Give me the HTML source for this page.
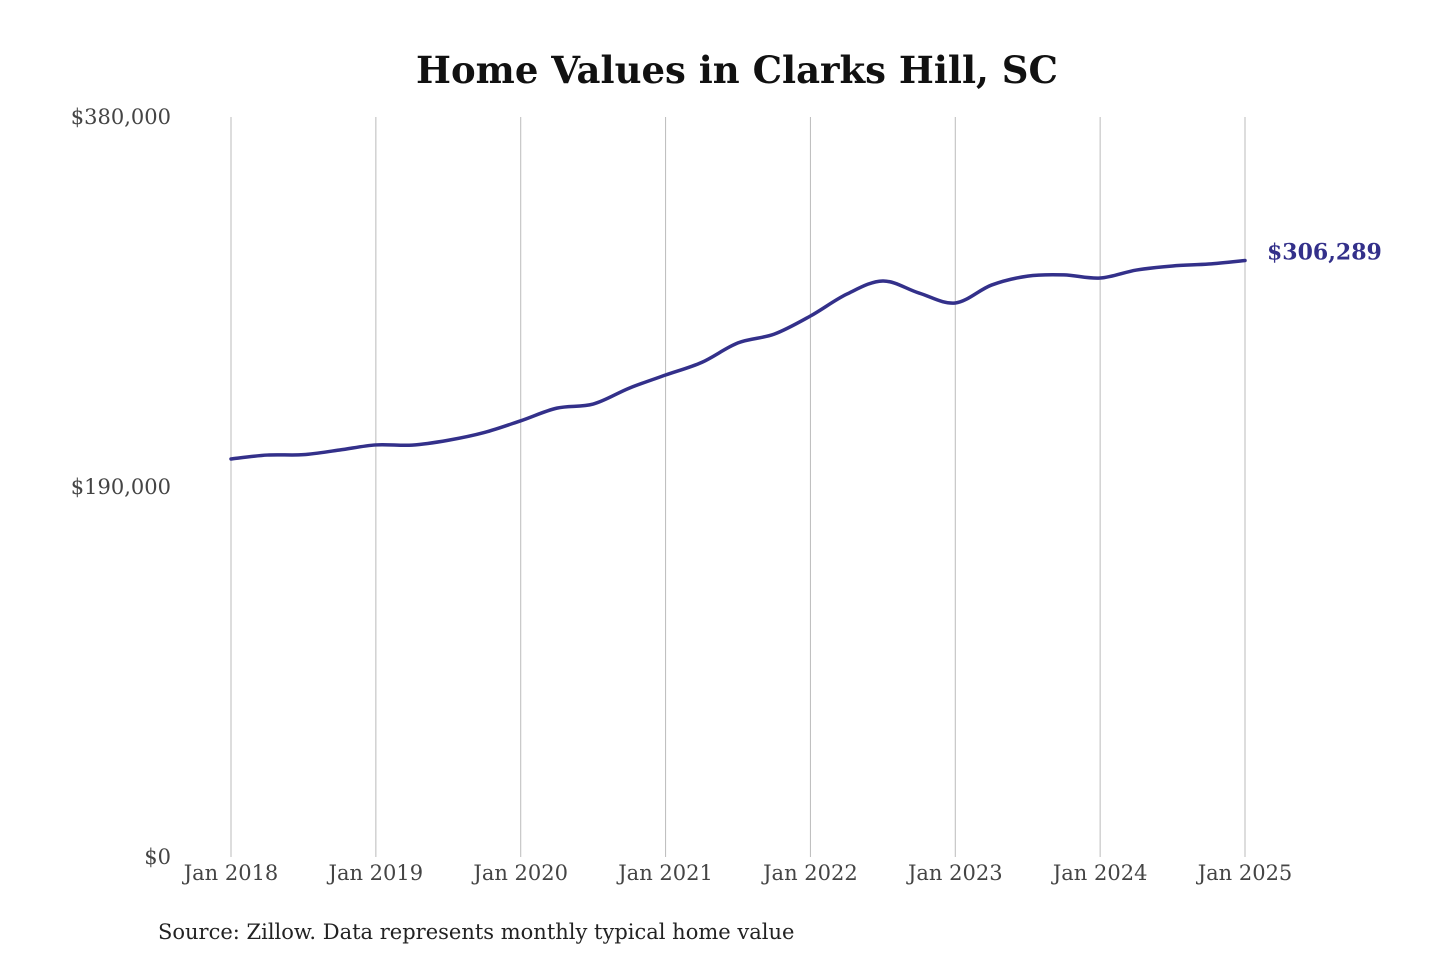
<!DOCTYPE html>
<html><head><meta charset="utf-8">
<style>
html,body{margin:0;padding:0;background:#fff;}
body{width:1440px;height:960px;overflow:hidden;font-family:"DejaVu Serif","Liberation Serif",serif;}
</style></head>
<body>
<svg id="chart" width="1440" height="960" xmlns="http://www.w3.org/2000/svg">
<text x="737" y="83" text-anchor="middle" font-size="37" font-weight="bold" fill="#111" font-family="DejaVu Serif, Liberation Serif, serif">Home Values in Clarks Hill, SC</text>
<g id="grid"></g>
<g id="yticks"></g>
<g id="xticks"></g>
<path id="line" fill="none" stroke="#33308a" stroke-width="3.5" stroke-linejoin="round" stroke-linecap="round"/>
<text id="endlabel" font-size="22" font-weight="bold" fill="#33308a"></text>
<text x="158" y="939" font-size="21" fill="#222">Source: Zillow. Data represents monthly typical home value</text>
</svg>
<script>
const months = [0,3,6,9,12,15,18,21,24,27,30,33,36,39,42,45,48,51,54,57,60,63,66,69,72,75,78,81,84];
const values = [204400,206400,206600,209000,211600,211500,214000,218000,224000,230500,232600,240800,247500,254000,264000,268500,277800,289000,295800,289600,284500,293700,298300,298900,297300,301400,303500,304500,306289];
const yTickValues = [0,190000,380000];
const yTickLabels = ["$0","$190,000","$380,000"];
const xTickMonths = [0,12,24,36,48,60,72,84];
const xTickLabels = ["Jan 2018","Jan 2019","Jan 2020","Jan 2021","Jan 2022","Jan 2023","Jan 2024","Jan 2025"];
const endLabel = "$306,289";

const X0=231, X1=1245, Y0=857, Y1=117, YMAX=380000, MMAX=84;
const xs = m => X0 + (X1-X0)*m/MMAX;
const ys = v => Y0 - (Y0-Y1)*v/YMAX;
const NS="http://www.w3.org/2000/svg";
const grid=document.getElementById('grid'), yt=document.getElementById('yticks'), xt=document.getElementById('xticks');
xTickMonths.forEach((m,i)=>{
  const l=document.createElementNS(NS,'line');
  
  
  l.setAttribute('x1',xs(m));l.setAttribute('x2',xs(m));l.setAttribute('y1',Y1);l.setAttribute('y2',Y0);
  l.setAttribute('stroke','#bbb');l.setAttribute('stroke-width','1');
  grid.appendChild(l);
  const t=document.createElementNS(NS,'text');
  
  
  t.setAttribute('x',xs(m));t.setAttribute('y',880);t.setAttribute('text-anchor','middle');
  t.setAttribute('font-size','21');t.setAttribute('fill','#444');
  t.textContent=xTickLabels[i];xt.appendChild(t);
});
yTickValues.forEach((v,i)=>{
  const t=document.createElementNS(NS,'text');
  
  
  t.setAttribute('x',171);t.setAttribute('y',ys(v)+7);t.setAttribute('text-anchor','end');
  t.setAttribute('font-size','21');t.setAttribute('fill','#444');
  t.textContent=yTickLabels[i];yt.appendChild(t);
});
const pts=months.map((m,i)=>[xs(m),ys(values[i])]);
let d='M'+pts[0][0]+','+pts[0][1];
for(let i=0;i<pts.length-1;i++){
  const p0=pts[Math.max(0,i-1)],p1=pts[i],p2=pts[i+1],p3=pts[Math.min(pts.length-1,i+2)];
  const c1=[p1[0]+(p2[0]-p0[0])/6,p1[1]+(p2[1]-p0[1])/6];
  const c2=[p2[0]-(p3[0]-p1[0])/6,p2[1]-(p3[1]-p1[1])/6];
  d+=` C${c1[0]},${c1[1]} ${c2[0]},${c2[1]} ${p2[0]},${p2[1]}`;
}
document.getElementById('line').setAttribute('d',d);
const el=document.getElementById('endlabel');
const last=pts[pts.length-1];
el.setAttribute('x',last[0]+22);el.setAttribute('y',last[1]-1);
el.textContent=endLabel;
</script>
</body></html>
